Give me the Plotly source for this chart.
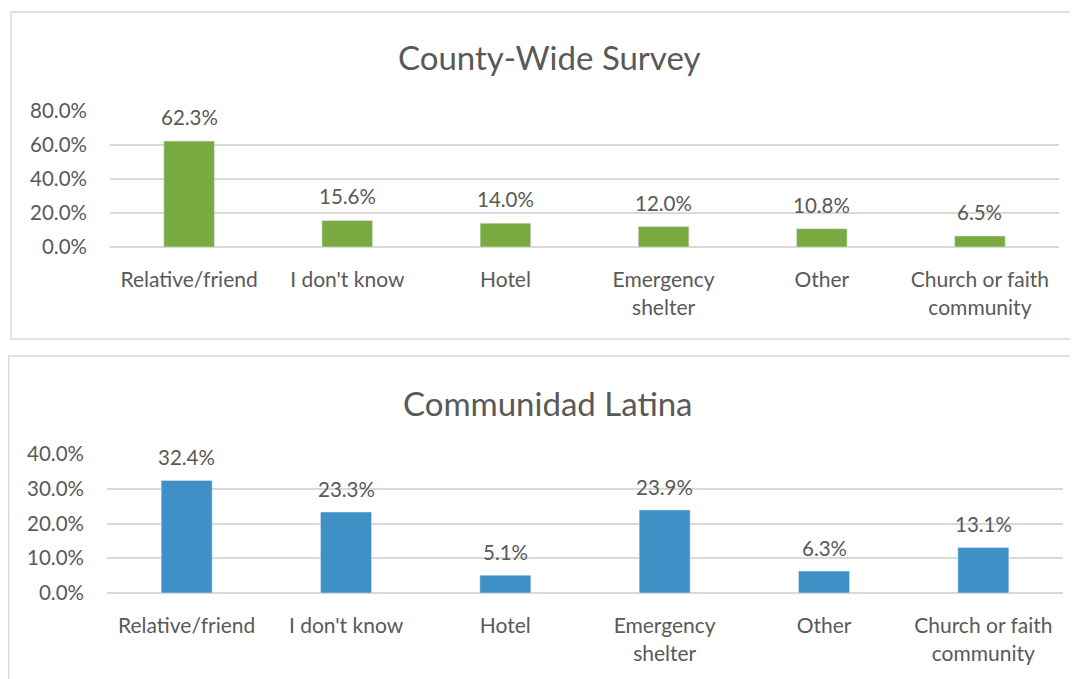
import plotly.graph_objects as go

categories = ["Relative/friend", "I don't know", "Hotel", "Emergency<br>shelter", "Other", "Church or faith<br>community"]
county_values = [62.3, 15.6, 14.0, 12.0, 10.8, 6.5]
latina_values = [32.4, 23.3, 5.1, 23.9, 6.3, 13.1]
county_ticks = [0, 20, 40, 60, 80]
latina_ticks = [0, 10, 20, 30, 40]

# page body has an 8px margin, so lay out in screen pixels minus 8
OX, OY = 8, 8
W, H = 1078 - OX, 679 - OY
FONT = "Lato"
GRAY = "#595959"
GRID = "#d9d9d9"

def px(x):
    return (x - OX) / W

def py(y):
    return 1 - (y - OY) / H

fig = go.Figure()
fig.add_trace(go.Bar(x=categories, y=county_values, marker_color="#7AAB42",
                     xaxis="x", yaxis="y", showlegend=False))
fig.add_trace(go.Bar(x=categories, y=latina_values, marker_color="#3E90C6",
                     xaxis="x2", yaxis="y2", showlegend=False))

xcommon = dict(type="category", showgrid=False, showline=False, zeroline=False, automargin=False,
               tickfont=dict(size=21, color=GRAY, family=FONT),
               ticks="outside", ticklen=14, tickcolor="rgba(0,0,0,0)")
ycommon = dict(showgrid=True, gridcolor=GRID, gridwidth=1.5, zeroline=True, automargin=False,
               zerolinecolor=GRID, zerolinewidth=1.5, showline=False, tickmode="array",
               tickfont=dict(size=20.5, color=GRAY, family=FONT), ticklabelstandoff=22)

annotations = [
    dict(text="County-Wide Survey", xref="paper", yref="paper", x=px(549), y=py(57),
         showarrow=False, font=dict(size=33, color=GRAY, family=FONT), xanchor="center", yanchor="middle"),
    dict(text="Communidad Latina", xref="paper", yref="paper", x=px(548), y=py(403),
         showarrow=False, font=dict(size=33, color=GRAY, family=FONT), xanchor="center", yanchor="middle"),
]
for cat, v in zip(categories, county_values):
    annotations.append(dict(text=f"{v:.1f}%", x=cat, y=v, xref="x", yref="y", showarrow=False,
                            yanchor="middle", yshift=24, font=dict(size=20.5, color=GRAY, family=FONT)))
for cat, v in zip(categories, latina_values):
    annotations.append(dict(text=f"{v:.1f}%", x=cat, y=v, xref="x2", yref="y2", showarrow=False,
                            yanchor="middle", yshift=23, font=dict(size=20.5, color=GRAY, family=FONT)))

fig.update_layout(
    width=W, height=H, margin=dict(l=0, r=0, t=0, b=0, autoexpand=False),
    paper_bgcolor="white", plot_bgcolor="white", bargap=0.68,
    xaxis=dict(domain=[px(110), px(1059)], anchor="y", **xcommon),
    yaxis=dict(domain=[py(247), py(111)], range=[0, 80], tickvals=county_ticks,
               ticktext=[f"{v:.1f}%" for v in county_ticks], anchor="x", **ycommon),
    xaxis2=dict(domain=[px(107), px(1063)], anchor="y2", **xcommon),
    yaxis2=dict(domain=[py(593), py(454)], range=[0, 40], tickvals=latina_ticks,
                ticktext=[f"{v:.1f}%" for v in latina_ticks], anchor="x2", **ycommon),
    shapes=[
        dict(type="rect", xref="paper", yref="paper", x0=px(11), x1=px(1076), y0=py(339), y1=py(12),
             line=dict(color=GRID, width=1.5), fillcolor="rgba(0,0,0,0)", layer="below"),
        dict(type="rect", xref="paper", yref="paper", x0=px(8.8), x1=px(1090), y0=py(700), y1=py(356),
             line=dict(color=GRID, width=1.5), fillcolor="rgba(0,0,0,0)", layer="below"),
    ],
    annotations=annotations,
)

fig.write_html("out.html")
